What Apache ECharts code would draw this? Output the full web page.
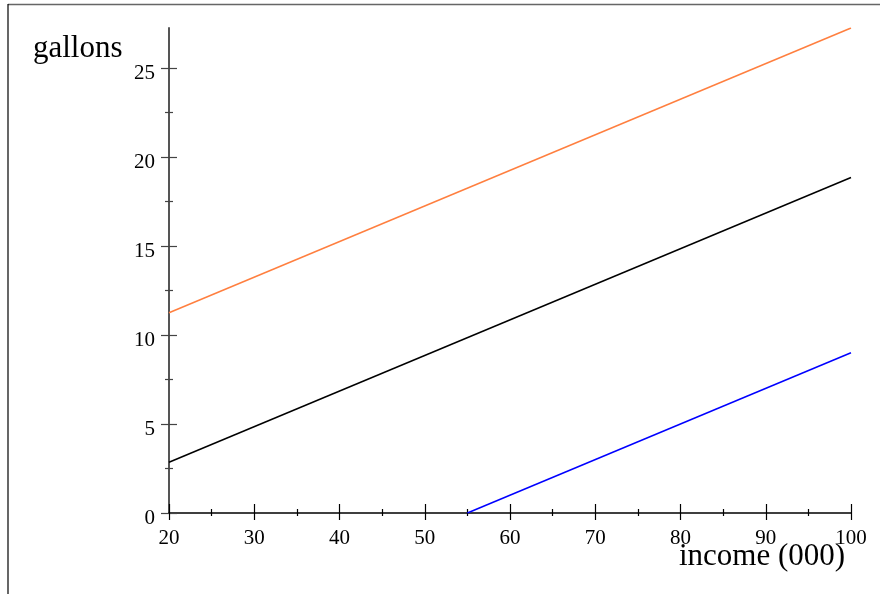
<!DOCTYPE html>
<html>
<head>
<meta charset="utf-8">
<script src="https://cdn.jsdelivr.net/npm/echarts@6/dist/echarts.min.js"></script>
<style>
html,body{margin:0;padding:0;background:#fff;}
#chart{width:880px;height:594px;}
</style>
</head>
<body>
<div id="chart"></div>
<script>
// ---- data ----
const incomeMajorTicks = [20, 30, 40, 50, 60, 70, 80, 90, 100];
const incomeMinorTicks = [25, 35, 45, 55, 65, 75, 85, 95];
const gallonsMajorTicks = [0, 5, 10, 15, 20, 25];
const gallonsMinorTicks = [2.5, 7.5, 12.5, 17.5, 22.5];
const incomeEnds = [20, 100];
const upperGallons = [11.25, 27.25];   // orange
const middleGallons = [2.85, 18.85];   // black
const lowerIncome = [55, 100];
const lowerGallons = [0, 9];           // blue
const xRange = [20, 100];
const yRange = [0, 27.25];
const xTitle = 'income (000)';
const yTitle = 'gallons';

const SERIF = '"Liberation Serif", "Times New Roman", serif';

function pairs(xs, ys) { return xs.map((x, i) => [x, ys[i]]); }

function xAxisDef(values, inside, len, showMain) {
  return {
    type: 'value', position: 'bottom', offset: 0,
    min: xRange[0], max: xRange[1],
    axisLine: { show: showMain, onZero: false, lineStyle: { color: '#000', width: 1.5 } },
    axisTick: { show: true, inside: inside, length: len, customValues: values,
                lineStyle: { color: '#000', width: 1.2 } },
    axisLabel: { show: showMain, customValues: incomeMajorTicks, margin: 15,
                 fontFamily: SERIF, fontSize: 21, color: '#000' },
    splitLine: { show: false }
  };
}
function yAxisDef(values, inside, len, showMain) {
  return {
    type: 'value', position: 'left', offset: 0,
    min: yRange[0], max: yRange[1],
    axisLine: { show: showMain, onZero: false, lineStyle: { color: '#555', width: 2 } },
    axisTick: { show: true, inside: inside, length: len, customValues: values,
                lineStyle: { color: '#444', width: 1.2 } },
    axisLabel: { show: showMain, customValues: gallonsMajorTicks, margin: 14,
                 fontFamily: SERIF, fontSize: 21, color: '#000',
                 verticalAlign: 'top', lineHeight: 10 },
    splitLine: { show: false }
  };
}

const chart = echarts.init(document.getElementById('chart'), null, { renderer: 'canvas' });
chart.setOption({
  backgroundColor: '#fff',
  animation: false,
  grid: { left: 169, right: 29, top: 28, bottom: 81 },
  xAxis: [
    xAxisDef(incomeMajorTicks, false, 7, true),
    xAxisDef(incomeMajorTicks, true, 9, false),
    xAxisDef(incomeMinorTicks, false, 3, false),
    xAxisDef(incomeMinorTicks, true, 4, false)
  ],
  yAxis: [
    yAxisDef(gallonsMajorTicks, false, 8, true),
    yAxisDef(gallonsMajorTicks, true, 8, false),
    yAxisDef(gallonsMinorTicks, false, 4, false),
    yAxisDef(gallonsMinorTicks, true, 4, false)
  ],
  series: [
    { type: 'line', data: pairs(incomeEnds, upperGallons), showSymbol: false,
      lineStyle: { color: '#ff7f3f', width: 1.5 }, xAxisIndex: 0, yAxisIndex: 0 },
    { type: 'line', data: pairs(incomeEnds, middleGallons), showSymbol: false,
      lineStyle: { color: '#000', width: 1.5 }, xAxisIndex: 0, yAxisIndex: 0 },
    { type: 'line', data: pairs(lowerIncome, lowerGallons), showSymbol: false,
      lineStyle: { color: '#0000ff', width: 1.5 }, xAxisIndex: 0, yAxisIndex: 0 }
  ],
  graphic: [
    { type: 'line', shape: { x1: 8, y1: 4.5, x2: 880, y2: 4.5 },
      style: { stroke: '#666', lineWidth: 1.5 } },
    { type: 'line', shape: { x1: 8, y1: 4, x2: 8, y2: 594 },
      style: { stroke: '#000', lineWidth: 1.2 } },
    { type: 'text', left: 33, top: 33,
      style: { text: yTitle, font: '31px ' + SERIF, fill: '#000' } },
    { type: 'text', left: 679, top: 541,
      style: { text: xTitle, font: '31px ' + SERIF, fill: '#000' } }
  ]
});
</script>
</body>
</html>
